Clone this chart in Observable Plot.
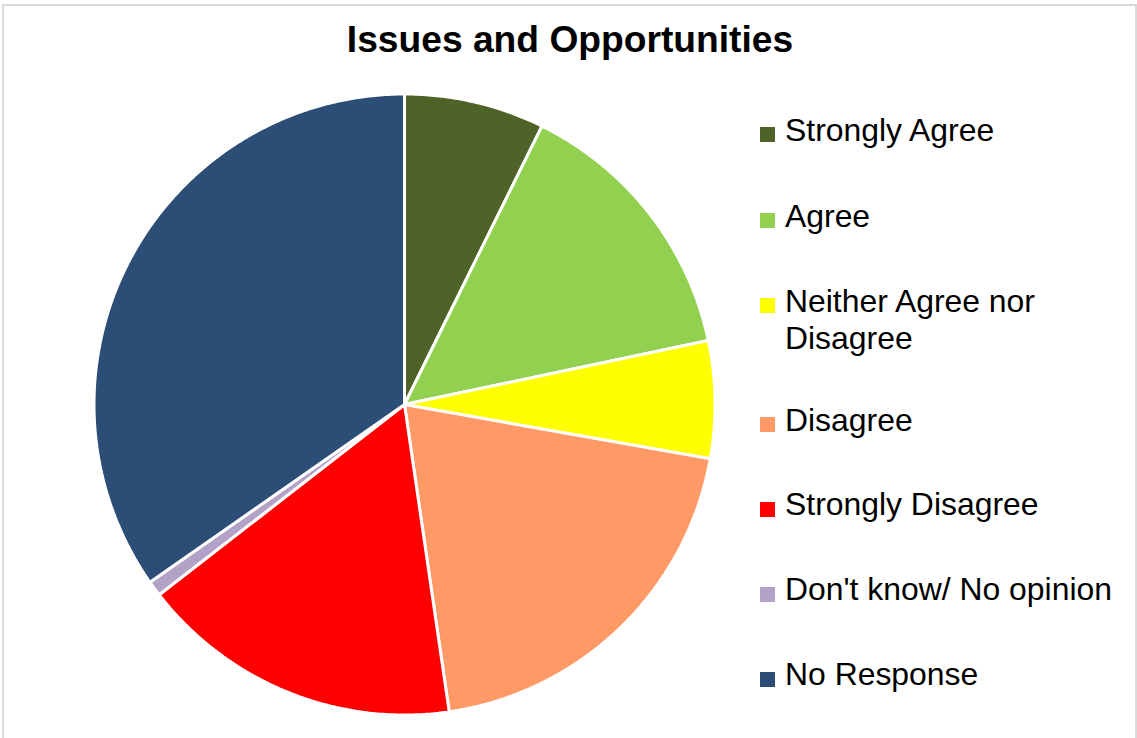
<!DOCTYPE html>
<html>
<head>
<meta charset="utf-8">
<script src="https://cdn.jsdelivr.net/npm/d3@7"></script>
<script src="https://cdn.jsdelivr.net/npm/@observablehq/plot@0.6"></script>
<style>
  html, body { margin: 0; padding: 0; background: #fff; }
  body { width: 1137px; height: 738px; overflow: hidden; position: relative;
         font-family: "Liberation Sans", Arial, Helvetica, sans-serif; color: #000; }
  #frame { position: absolute; left: 2px; top: 4px; width: 1135px; height: 760px;
           border: 2px solid #d9d9d9; box-sizing: border-box; }
  #title { position: absolute; left: 0; width: 1140px; top: 17px; text-align: center;
           font-weight: bold; font-size: 37.2px; line-height: 44px; }
  #chart { position: absolute; left: 84px; top: 84px; }
  .item { position: absolute; left: 785px; width: 345px; font-size: 31.9px; line-height: 37px; }
  .sw { position: absolute; left: 759.5px; width: 15px; height: 15px; }
</style>
</head>
<body>
<div id="frame"></div>
<div id="title">Issues and Opportunities</div>
<div id="chart"></div>
<div id="legend"></div>
<script>
const categories = ["Strongly Agree", "Agree", "Neither Agree nor Disagree", "Disagree", "Strongly Disagree", "Don't know/ No opinion", "No Response"];
const percents = [7.3, 14.4, 6.1, 19.9, 16.8, 0.8, 34.7];
const colors = ["#4F6228", "#92D050", "#FFFF00", "#FF9966", "#FF0000", "#B3A2C7", "#2C4D75"];

const data = categories.map((c, i) => ({category: c, value: percents[i]}));
const arcs = d3.pie().sort(null).value(d => d.value).startAngle(0).endAngle(2 * Math.PI)(data);

// Build slice outlines in unit polar coordinates (angle clockwise from 12 o'clock)
const pts = [];
for (const a of arcs) {
  const c = a.data.category;
  pts.push({category: c, x: 0, y: 0});
  const n = Math.max(2, Math.ceil((a.endAngle - a.startAngle) / (Math.PI / 360)));
  for (let k = 0; k <= n; k++) {
    const t = a.startAngle + (a.endAngle - a.startAngle) * k / n;
    pts.push({category: c, x: Math.sin(t), y: Math.cos(t)});
  }
  pts.push({category: c, x: 0, y: 0});
}

const S = 640, R = 310.5;
const half = (S / 2) / R;
const plot = Plot.plot({
  width: S, height: S, margin: 0,
  x: {domain: [-half, half], axis: null},
  y: {domain: [-half, half], axis: null},
  color: {domain: categories, range: colors},
  marks: [
    Plot.line(pts, {x: "x", y: "y", z: "category", fill: "category", stroke: "white", strokeWidth: 3, strokeLinejoin: "miter", curve: "linear"})
  ]
});
document.getElementById("chart").appendChild(plot);

// Legend (HTML)
const baselines = [141.5, 227.5, 312.5, 431.5, 516, 601, 686];
const legend = document.getElementById("legend");
categories.forEach((c, i) => {
  const sw = document.createElement("div");
  sw.className = "sw";
  sw.style.top = (baselines[i] - 14.2) + "px";
  sw.style.background = colors[i];
  legend.appendChild(sw);
  const t = document.createElement("div");
  t.className = "item";
  t.style.top = (baselines[i] - 29.6) + "px";
  t.textContent = c;
  legend.appendChild(t);
});
</script>
</body>
</html>
